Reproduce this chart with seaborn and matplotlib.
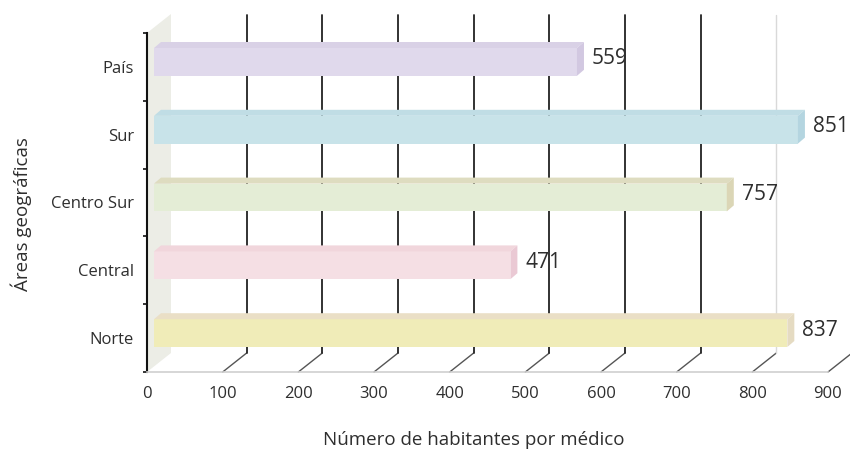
import matplotlib
matplotlib.use("Agg")
import matplotlib.pyplot as plt
import seaborn as sns
import pandas as pd
from matplotlib.lines import Line2D
from matplotlib.patches import Polygon
from matplotlib.transforms import IdentityTransform, ScaledTranslation

# data
areas = ["País", "Sur", "Centro Sur", "Central", "Norte"]
habitantes = [559, 851, 757, 471, 837]
x_ticks = [0, 100, 200, 300, 400, 500, 600, 700, 800, 900]

# bar face colours (front, top, side)
front_colors = ["#e0d9ec", "#c8e3e9", "#e4edd6", "#f5dfe4", "#f0ecb8"]
top_colors = ["#d9d1e6", "#c0dde5", "#dedcc0", "#f1d6dc", "#eadfc6"]
side_colors = ["#d2c8e1", "#b4d5e0", "#dbd6b6", "#eac9d4", "#e5dbc2"]

W, H = 850, 449
sns.set_style("white")
plt.rcParams["font.family"] = ["Open Sans", "DejaVu Sans"]

fig = plt.figure(figsize=(W / 100, H / 100), dpi=100)
ax = fig.add_axes([147 / W, 1 - 372 / H, 681 / W, 339 / H])
ax.patch.set_facecolor("none")

df = pd.DataFrame({"area": areas, "habitantes": habitantes})
sns.barplot(data=df, x="habitantes", y="area", hue="area", palette=front_colors,
            orient="h", width=0.41, saturation=1, linewidth=0, legend=False,
            ax=ax, zorder=3)
ax.set_xlim(0, 900)
ax.set_ylim(4.5, -0.5)

# pseudo 3d offsets in pixels (display coords, y up)
bar_shift = (7, 5)
bar_depth = (7, 6)
back = (24, 19)
top_px = H - 15

to_px = ax.transData.transform

# left wall
fb = to_px((0, 4.5))
ft = to_px((0, -0.5))
wall = [fb, ft, (ft[0] + back[0], ft[1] + back[1]), (fb[0] + back[0], fb[1] + back[1])]
ax.add_patch(Polygon(wall, closed=True, facecolor="#ecede6", edgecolor="none",
                     transform=IdentityTransform(), clip_on=False, zorder=1))

# back grid lines with the diagonal floor ticks
for v in x_ticks[1:]:
    fx, fy = to_px((v, 4.5))
    bx, by = fx + back[0], fy + back[1]
    ax.add_line(Line2D([fx, bx], [fy, by], color="#555555", lw=1,
                       transform=IdentityTransform(), clip_on=False, zorder=1))
    col = "#222222" if v <= 700 else "#d9d9d9"
    ax.add_line(Line2D([bx, bx], [by, top_px], color=col, lw=1.3 if v <= 700 else 1,
                       transform=IdentityTransform(), clip_on=False, zorder=1))

# shift bars and add top / side faces
offset = ScaledTranslation(bar_shift[0] / 100, bar_shift[1] / 100, fig.dpi_scale_trans)
for i, p in enumerate(ax.patches[:len(areas)]):
    x0, x1 = p.get_x(), p.get_x() + p.get_width()
    ya, yb = p.get_y(), p.get_y() + p.get_height()
    (l, y_1), (r, y_2) = to_px((x0, ya)), to_px((x1, yb))
    p.set_transform(ax.transData + offset)
    l, r = l + bar_shift[0], r + bar_shift[0]
    top, bot = max(y_1, y_2) + bar_shift[1], min(y_1, y_2) + bar_shift[1]
    dx, dy = bar_depth
    ax.add_patch(Polygon([(l, top), (r, top), (r + dx, top + dy), (l + dx, top + dy)],
                         facecolor=top_colors[i], edgecolor="none",
                         transform=IdentityTransform(), clip_on=False, zorder=3))
    ax.add_patch(Polygon([(r, bot), (r, top), (r + dx, top + dy), (r + dx, bot + dy)],
                         facecolor=side_colors[i], edgecolor="none",
                         transform=IdentityTransform(), clip_on=False, zorder=3))

# value labels
for i, v in enumerate(habitantes):
    ax.annotate(str(v), xy=(v, i), xytext=(22 * 0.72, 8 * 0.72), textcoords="offset points",
                ha="left", va="center", fontsize=15, color="#2e2e2e", zorder=5)

# axes styling
sns.despine(ax=ax)
ax.spines["left"].set_color("#111111")
ax.spines["left"].set_linewidth(1.5)
ax.spines["bottom"].set_color("#cfcfcf")
ax.spines["bottom"].set_linewidth(1.2)

ax.set_xticks(x_ticks)
ax.set_xticklabels([str(t) for t in x_ticks])
ax.tick_params(axis="x", length=3, width=1.2, color="#333333", pad=7,
               labelsize=12, labelcolor="#2e2e2e")
ax.set_yticks(range(len(areas)), areas)
ax.set_yticks([k - 0.5 for k in range(len(areas) + 1)], minor=True)
ax.tick_params(axis="y", which="major", length=0, pad=9.5, labelsize=12, labelcolor="#2e2e2e")
ax.tick_params(axis="y", which="minor", left=True, length=3, width=1.2, color="#111111")

ax.set_xlabel("Número de habitantes por médico", fontsize=13.5, color="#2e2e2e", va="center")
ax.xaxis.set_label_coords((474 - 147) / 681, (372 - 440) / 339)
ax.set_ylabel("Áreas geográficas", fontsize=13.5, color="#2e2e2e", va="center")
ax.yaxis.set_label_coords((21 - 147) / 681, (372 - 214) / 339)

fig.savefig("out.png", dpi=100)
